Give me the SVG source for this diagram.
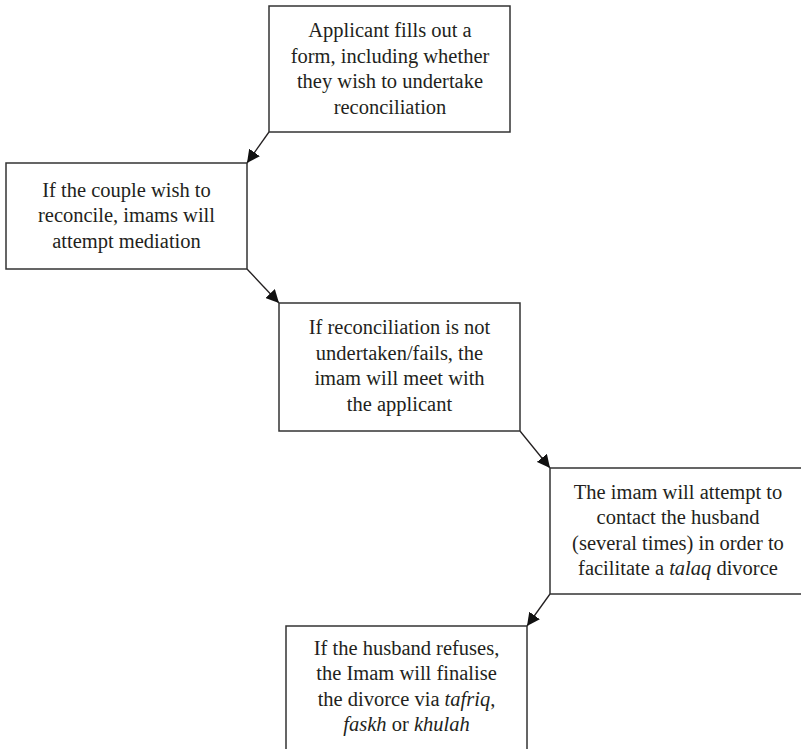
<svg xmlns="http://www.w3.org/2000/svg" width="801" height="749" viewBox="0 0 801 749">
<defs>
<style>
.box{fill:#fff;stroke:#333;stroke-width:1.5}
.t{font-family:"Liberation Serif","DejaVu Serif",serif;font-size:20.5px;fill:#231f20;text-anchor:middle}
.c{stroke:#231f20;stroke-width:1.3;fill:none}
</style>
<marker id="ah" viewBox="0 0 10 10" refX="10" refY="5" markerWidth="13" markerHeight="13" markerUnits="userSpaceOnUse" orient="auto">
<path d="M0,0 L10,5 L0,10 z" fill="#111"/>
</marker>
</defs>
<rect width="801" height="749" fill="#fff"/>
<g id="connectors">
<line class="c" x1="269" y1="132" x2="247" y2="163" marker-end="url(#ah)"/>
<line class="c" x1="247" y1="269" x2="279" y2="303" marker-end="url(#ah)"/>
<line class="c" x1="520" y1="431" x2="550" y2="468" marker-end="url(#ah)"/>
<line class="c" x1="550" y1="594" x2="527" y2="626" marker-end="url(#ah)"/>
</g>
<g id="n1">
<rect class="box" x="269" y="6" width="241" height="126"/>
<text class="t"><tspan x="390" y="37">Applicant fills out a</tspan><tspan x="390" y="62.5">form, including whether</tspan><tspan x="390" y="88">they wish to undertake</tspan><tspan x="390" y="113.5">reconciliation</tspan></text>
</g>
<g id="n2">
<rect class="box" x="6" y="163" width="241" height="106"/>
<text class="t"><tspan x="126.5" y="196.5">If the couple wish to</tspan><tspan x="126.5" y="222">reconcile, imams will</tspan><tspan x="126.5" y="247.5">attempt mediation</tspan></text>
</g>
<g id="n3">
<rect class="box" x="279" y="303" width="241" height="128"/>
<text class="t"><tspan x="399.5" y="334">If reconciliation is not</tspan><tspan x="399.5" y="359.5">undertaken/fails, the</tspan><tspan x="399.5" y="385">imam will meet with</tspan><tspan x="399.5" y="410.5">the applicant</tspan></text>
</g>
<g id="n4">
<rect class="box" x="550" y="468" width="256" height="126"/>
<text class="t"><tspan x="678" y="498.5">The imam will attempt to</tspan><tspan x="678" y="524">contact the husband</tspan><tspan x="678" y="549.5">(several times) in order to</tspan><tspan x="678" y="575">facilitate a <tspan font-style="italic">talaq</tspan> divorce</tspan></text>
</g>
<g id="n5">
<rect class="box" x="286" y="626" width="241" height="140"/>
<text class="t"><tspan x="406.5" y="654.5">If the husband refuses,</tspan><tspan x="406.5" y="680">the Imam will finalise</tspan><tspan x="406.5" y="705.5">the divorce via <tspan font-style="italic">tafriq</tspan>,</tspan><tspan x="406.5" y="731"><tspan font-style="italic">faskh</tspan> or <tspan font-style="italic">khulah</tspan></tspan></text>
</g>
</svg>
